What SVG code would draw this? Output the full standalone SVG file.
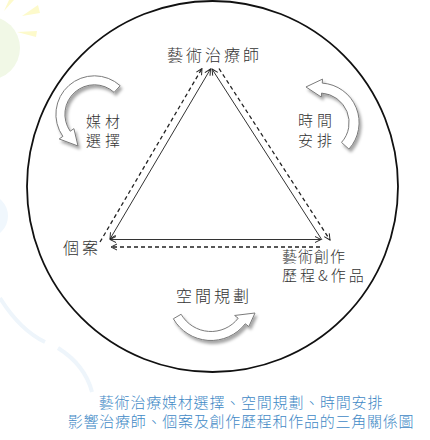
<svg xmlns="http://www.w3.org/2000/svg" width="430" height="440" viewBox="0 0 430 440">
  <defs>
    <style>
      .lbl { font-family: "Noto Sans CJK TC", "Noto Sans CJK SC", sans-serif; font-size: 16px; font-weight: 300; fill: #333; }
      .lbl2 { font-family: "Noto Sans CJK TC", "Noto Sans CJK SC", sans-serif; font-size: 15px; font-weight: 300; fill: #333; }
      .cap { font-family: "Noto Sans CJK TC", "Noto Sans CJK SC", sans-serif; font-size: 15px; font-weight: 300; fill: #4189c6; }
      .sol { stroke: #333; stroke-width: 1; fill: none; }
      .dsh { stroke: #222; stroke-width: 1.3; stroke-dasharray: 4 3; fill: none; }
      .carrow { fill: #ffffff; stroke: #7a7a7a; stroke-width: 1; stroke-linejoin: round; }
    </style>
    <marker id="ah" viewBox="0 0 10 10" refX="9" refY="5" markerWidth="7.5" markerHeight="7.5" markerUnits="userSpaceOnUse" orient="auto-start-reverse">
      <path d="M1,1 L9,5 L1,9" fill="none" stroke="#222" stroke-width="1.3"/>
    </marker>
    <filter id="sh" x="-30%" y="-30%" width="160%" height="160%">
      <feGaussianBlur in="SourceAlpha" stdDeviation="1.5"/>
      <feOffset dx="2" dy="2.5" result="b"/>
      <feFlood flood-color="#000" flood-opacity="0.35"/>
      <feComposite in2="b" operator="in"/>
      <feMerge><feMergeNode/><feMergeNode in="SourceGraphic"/></feMerge>
    </filter>
  </defs>

  <rect width="430" height="440" fill="#ffffff"/>

  <g id="background">
    <polygon points="4,11 9,0 14,0" fill="#fdfacb"/>
    <polygon points="22,16 38,5 40,13" fill="#fdfacb"/>
    <polygon points="17,32 37,31 36,37" fill="#fdfacb"/>
    <circle cx="-12" cy="48" r="32" fill="#f1f8e6"/>
    <circle cx="-14" cy="216" r="22" fill="#f0f7fd"/>
    <path d="M0,298 Q20,330 45,342" stroke="#eef5fb" stroke-width="4" fill="none"/>
    <path d="M58,348 Q85,365 92,392" stroke="#eef5fb" stroke-width="4" fill="none"/>
  </g>

  <g id="frame">
    <circle cx="212.5" cy="186.5" r="185.5" fill="none" stroke="#111" stroke-width="1.8"/>
  </g>

  <g id="connectors">
    <line class="sol" x1="110" y1="239" x2="210.5" y2="69" marker-start="url(#ah)" marker-end="url(#ah)"/>
    <line class="sol" x1="322" y1="240" x2="212" y2="69" marker-end="url(#ah)"/>
    <line class="sol" x1="110" y1="239.5" x2="321" y2="239.5" marker-start="url(#ah)" marker-end="url(#ah)"/>
    <line class="dsh" x1="100" y1="242" x2="202" y2="68.5" marker-end="url(#ah)"/>
    <line class="dsh" x1="219" y1="68.5" x2="330" y2="240" marker-end="url(#ah)"/>
    <line class="dsh" x1="320" y1="247" x2="111" y2="247" marker-end="url(#ah)"/>
  </g>

  <g id="cycle-arrows" filter="url(#sh)">
    <path id="arrow-media" class="carrow" d="M120.16,85.69 A38.5,38.5 0 0 0 62.86,136.38 L59.18,138.96 L78,146 L73.92,128.64 L70.23,131.22 A29.5,29.5 0 0 1 114.14,92.38 Z"/>
    <path id="arrow-time" class="carrow" d="M348.93,149.10 A39.6,39.6 0 0 0 322.26,83.10 L322.54,79.10 L305.96,86.96 L321.29,97.06 L321.57,93.07 A29.6,29.6 0 0 1 341.50,142.41 Z"/>
    <path id="arrow-space" class="carrow" d="M173.33,318.75 A43.5,43.5 0 0 0 245.28,323.78 L248.82,326.55 L255,313 L234.64,315.47 L238.19,318.24 A34.5,34.5 0 0 1 181.12,314.25 Z"/>
  </g>

  <g id="node-therapist">
    <text class="lbl" x="167" y="61" letter-spacing="3">藝術治療師</text>
  </g>
  <g id="node-client">
    <text class="lbl" x="63" y="254" letter-spacing="3">個案</text>
  </g>
  <g id="node-artwork">
    <text class="lbl2" x="282" y="261.5" letter-spacing="1">藝術創作</text>
    <text class="lbl2" x="282" y="281" letter-spacing="3">歷程&amp;作品</text>
  </g>
  <g id="label-media">
    <text class="lbl2" x="86" y="126.5" letter-spacing="4">媒材</text>
    <text class="lbl2" x="86" y="146" letter-spacing="4">選擇</text>
  </g>
  <g id="label-time">
    <text class="lbl2" x="298" y="126" letter-spacing="4">時間</text>
    <text class="lbl2" x="298" y="145.5" letter-spacing="4">安排</text>
  </g>
  <g id="label-space">
    <text class="lbl" x="176" y="302" letter-spacing="3">空間規劃</text>
  </g>

  <g id="caption">
    <text class="cap" x="241" y="407.5" text-anchor="middle" letter-spacing="0.8">藝術治療媒材選擇、空間規劃、時間安排</text>
    <text class="cap" x="241" y="427" text-anchor="middle" letter-spacing="0.75">影響治療師、個案及創作歷程和作品的三角關係圖</text>
  </g>
</svg>
